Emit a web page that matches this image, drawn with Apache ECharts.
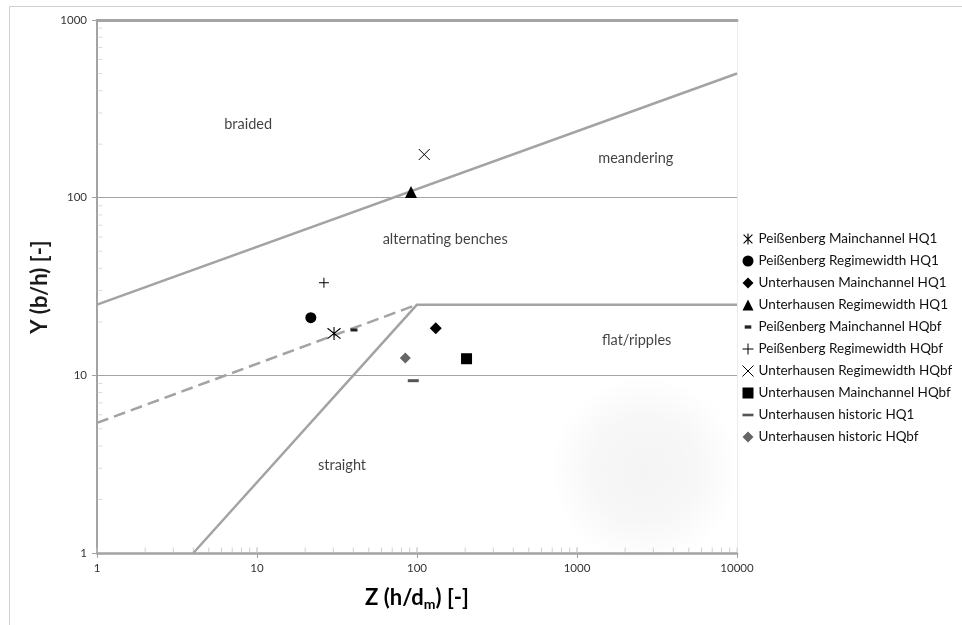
<!DOCTYPE html>
<html><head><meta charset="utf-8">
<script src="https://cdn.jsdelivr.net/npm/echarts@6/dist/echarts.min.js"></script>
<style>html,body{margin:0;padding:0;background:#fff}#c{width:962px;height:625px}</style>
</head><body><div id="c"></div>
<script>
// ---- data ----
const xMin = 1, xMax = 10000;
const yMin = 1, yMax = 1000;
const boundaryBraided = [[1, 25], [10000, 500]];
const boundaryAlternating = [[1, 5.4], [100, 25]];
const boundaryStraight = [[4, 1], [100, 25], [10000, 25]];

const regionNames = ['braided', 'meandering', 'alternating benches', 'flat/ripples', 'straight'];
const regionZ = [8.8, 2330, 150, 2360, 34];
const regionY = [260, 167, 58, 15.8, 3.1];

const seriesNames = [
  'Peißenberg Mainchannel HQ1',
  'Peißenberg Regimewidth HQ1',
  'Unterhausen Mainchannel HQ1',
  'Unterhausen Regimewidth HQ1',
  'Peißenberg Mainchannel HQbf',
  'Peißenberg Regimewidth HQbf',
  'Unterhausen Regimewidth HQbf',
  'Unterhausen Mainchannel HQbf',
  'Unterhausen historic HQ1',
  'Unterhausen historic HQbf'
];
const seriesZ = [30.3, 21.7, 131, 91.7, 40.4, 26.2, 111, 204, 94.8, 84.5];
const seriesY = [17.2, 21.1, 18.4, 107.5, 18.0, 33.2, 175, 12.4, 9.33, 12.5];

// ---- styles ----
const FONT = 'Lato, "Liberation Sans", sans-serif';
const GRAY = '#a3a3a3';
const markerStyles = [
  {symbol: 'path://M1,1L9,9M9,1L1,9M5,0L5,10', size: 13, color: 'rgba(0,0,0,0)', border: '#000', bw: 1.1, legendIcon: 'path://M1,1L9,9M9,1L1,9M5,0L5,10'},
  {symbol: 'circle', size: 11, color: '#000', legendIcon: 'circle'},
  {symbol: 'diamond', size: 12, color: '#000', legendIcon: 'diamond'},
  {symbol: 'triangle', size: 12, color: '#000', legendIcon: 'triangle'},
  {symbol: 'rect', size: [7, 3], color: '#222', legendIcon: 'path://M0,0M10,10M2,3.5H8V6.5H2Z'},
  {symbol: 'path://M5,0L5,10M0,5L10,5', size: 10, color: 'rgba(0,0,0,0)', border: '#000', bw: 1, legendIcon: 'path://M5,0L5,10M0,5L10,5'},
  {symbol: 'path://M0,0L10,10M10,0L0,10', size: 11, color: 'rgba(0,0,0,0)', border: '#000', bw: 1, legendIcon: 'path://M0,0L10,10M10,0L0,10'},
  {symbol: 'rect', size: 11, color: '#000', legendIcon: 'rect'},
  {symbol: 'rect', size: [11, 3], color: '#555', legendIcon: 'path://M0,0M10,10M0,3.8H10V6.2H0Z'},
  {symbol: 'diamond', size: 11, color: '#666', legendIcon: 'diamond'}
];

// minor tick positions (2..9 per decade)
const xMinor = [], yMinor = [];
for (let d = 1; d < xMax; d *= 10) for (let k = 1; k <= 10; k++) if (d * k <= xMax) xMinor.push([d * k, yMin]);
for (let d = 1; d < yMax; d *= 10) for (let k = 2; k <= 9; k++) yMinor.push([xMin, d * k]);

const chart = echarts.init(document.getElementById('c'));

const series = [];
const lineCommon = {type: 'line', showSymbol: false, silent: true, z: 2, lineStyle: {color: GRAY, width: 2.5}};
series.push(Object.assign({}, lineCommon, {name: 'b1', data: boundaryBraided}));
series.push(Object.assign({}, lineCommon, {name: 'b2', data: boundaryAlternating, lineStyle: {color: GRAY, width: 2.5, type: [12, 6]}}));
series.push(Object.assign({}, lineCommon, {name: 'b3', data: boundaryStraight}));

series.push({
  type: 'scatter', name: 'xminor', silent: true, symbol: 'rect', symbolSize: [1, 5], symbolOffset: [0, -3],
  itemStyle: {color: '#c4c4c4'}, data: xMinor, z: 1
});
series.push({
  type: 'scatter', name: 'yminor', silent: true, symbol: 'rect', symbolSize: [5, 1], symbolOffset: [3, 0],
  itemStyle: {color: '#d4d4d4'}, data: yMinor, z: 1
});

series.push({
  type: 'scatter', name: 'regions', silent: true, symbolSize: 1, itemStyle: {color: 'rgba(0,0,0,0)'},
  label: {show: true, position: 'inside', formatter: '{b}', fontFamily: FONT, fontSize: 14.5, color: '#111'},
  data: regionNames.map((n, i) => ({name: n, value: [regionZ[i], regionY[i]]}))
});

seriesNames.forEach((n, i) => {
  const m = markerStyles[i];
  series.push({
    type: 'scatter', name: n, symbol: m.symbol, symbolSize: m.size, z: 5,
    itemStyle: {color: m.color, borderColor: m.border || m.color, borderWidth: m.bw || 0, opacity: 1},
    data: [[seriesZ[i], seriesY[i]]]
  });
});

chart.setOption({
  animation: false,
  backgroundColor: '#fff',
  grid: {left: 97, right: 225, top: 20, bottom: 72},
  legend: {
    orient: 'vertical', left: 742, top: 232, padding: 0,
    itemWidth: 11, itemHeight: 11, itemGap: 8,
    textStyle: {fontFamily: FONT, fontSize: 13.5, lineHeight: 14, color: '#111'},
    data: seriesNames.map((n, i) => {
      const m = markerStyles[i];
      return {name: n, icon: m.legendIcon,
        itemStyle: {color: m.color, borderColor: m.border || m.color, borderWidth: m.bw || 0}};
    })
  },
  xAxis: [{
    type: 'log', logBase: 10, min: xMin, max: xMax, position: 'bottom',
    axisLine: {show: true, lineStyle: {color: GRAY, width: 2.5}},
    axisTick: {show: true, length: 5, lineStyle: {color: GRAY}},
    axisLabel: {margin: 9, fontFamily: FONT, fontSize: 11.5, color: '#333', formatter: v => String(Math.round(v))},
    splitLine: {show: false}
  }, {
    type: 'log', logBase: 10, min: xMin, max: xMax, position: 'top',
    axisLine: {show: true, lineStyle: {color: GRAY, width: 3}},
    axisTick: {show: false}, axisLabel: {show: false}, splitLine: {show: false}
  }],
  yAxis: [{
    type: 'log', logBase: 10, min: yMin, max: yMax,
    axisLine: {show: true, lineStyle: {color: GRAY, width: 2}},
    axisTick: {show: true, length: 5, lineStyle: {color: GRAY}},
    axisLabel: {margin: 10, fontFamily: FONT, fontSize: 11.5, color: '#333', formatter: v => String(Math.round(v))},
    splitLine: {show: true, lineStyle: {color: GRAY, width: 1}}
  }, {
    type: 'log', logBase: 10, min: yMin, max: yMax, position: 'right',
    axisLine: {show: true, lineStyle: {color: '#ececec', width: 1}},
    axisTick: {show: false}, axisLabel: {show: false}, splitLine: {show: false}
  }],
  graphic: [
    {type: 'rect', silent: true, z: -10, shape: {x: 9.5, y: 6.5, width: 1000, height: 700}, style: {fill: 'none', stroke: '#d0d0d0', lineWidth: 1}},
    {type: 'circle', silent: true, z: -5, shape: {cx: 645, cy: 470, r: 95},
      style: {fill: {type: 'radial', x: 0.5, y: 0.5, r: 0.5, colorStops: [
        {offset: 0, color: 'rgba(0,0,0,0.045)'}, {offset: 0.55, color: 'rgba(0,0,0,0.03)'}, {offset: 1, color: 'rgba(0,0,0,0)'}]}}},
    {type: 'text', x: 40, y: 287, rotation: Math.PI / 2, silent: true,
      style: {text: 'Y (b/h) [-]', font: 'bold 22px ' + FONT, fill: '#1a1a1a', align: 'center', verticalAlign: 'middle'}},
    {type: 'text', x: 417, y: 598, silent: true,
      style: {text: '{a|Z (h/d}{s|m}{a|) [-]}', align: 'center', verticalAlign: 'middle',
        rich: {a: {fontFamily: FONT, fontWeight: 'bold', fontSize: 22, color: '#1a1a1a'},
               s: {fontFamily: FONT, fontWeight: 'bold', fontSize: 14, color: '#1a1a1a', padding: [13, 0, 0, 0]}}}}
  ],
  series: series
});
</script></body></html>
